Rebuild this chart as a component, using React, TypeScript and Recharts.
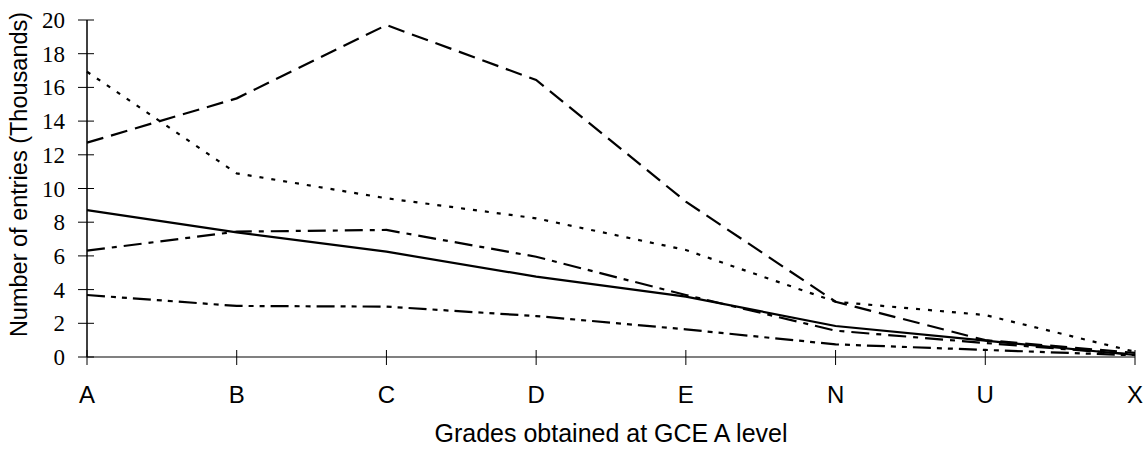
import React from "react";
import { LineChart, Line, XAxis, YAxis } from "recharts";

const grades = ["A", "B", "C", "D", "E", "N", "U", "X"];
const solidSeries = [8.72, 7.4, 6.25, 4.77, 3.58, 1.84, 0.97, 0.12];
const longDashSeries = [12.72, 15.35, 19.7, 16.44, 9.22, 3.28, 1.0, 0.24];
const dottedSeries = [16.93, 10.9, 9.42, 8.23, 6.35, 3.28, 2.49, 0.31];
const dashDotSeries = [6.31, 7.44, 7.54, 5.95, 3.68, 1.56, 0.83, 0.15];
const dashDotDotSeries = [3.68, 3.03, 2.99, 2.43, 1.64, 0.75, 0.42, 0.1];
const yTicks = [0, 2, 4, 6, 8, 10, 12, 14, 16, 18, 20];

const data = grades.map((g, i) => ({
  grade: g,
  solid: solidSeries[i],
  longDash: longDashSeries[i],
  dotted: dottedSeries[i],
  dashDot: dashDotSeries[i],
  dashDotDot: dashDotDotSeries[i],
}));

const sans = "'Liberation Sans', Arial, sans-serif";

const YTick = (props: any) => {
  const { x, y, payload } = props;
  return (
    <g>
      <line x1={x - 9} y1={y} x2={x + 7} y2={y} stroke="#000" strokeWidth={1} />
      <text
        x={x - 22}
        y={y + 8}
        textAnchor="end"
        fontFamily="'Liberation Serif', 'Times New Roman', serif"
        fontSize={23}
        fill="#000"
      >
        {payload.value}
      </text>
    </g>
  );
};

const XTick = (props: any) => {
  const { x, y, payload } = props;
  return (
    <g>
      <line x1={x} y1={y - 7} x2={x} y2={y + 8} stroke="#000" strokeWidth={1} />
      <text x={x} y={y + 46} textAnchor="middle" fontFamily={sans} fontSize={24} fill="#000">
        {payload.value}
      </text>
    </g>
  );
};

// rotated axis title, centred a little above the plot's middle
const YTitle = (props: any) => {
  const { viewBox } = props;
  const cx = 27;
  const cy = viewBox.y + viewBox.height / 2 - 14;
  return (
    <text
      x={cx}
      y={cy}
      transform={`rotate(-90, ${cx}, ${cy})`}
      textAnchor="middle"
      fontFamily={sans}
      fontSize={23.5}
      fill="#000"
    >
      Number of entries (Thousands)
    </text>
  );
};

export default function App() {
  return (
    <div style={{ position: "absolute", left: 0, top: 0, width: 1147, height: 451, background: "#fff" }}>
      <LineChart
        width={1147}
        height={451}
        data={data}
        margin={{ top: 20, right: 12, left: 0, bottom: 0 }}
      >
        <XAxis
          dataKey="grade"
          scale="point"
          padding={{ left: 0, right: 0 }}
          height={94}
          axisLine={{ stroke: "#808080", strokeWidth: 2 }}
          tickLine={false}
          tickSize={0}
          tickMargin={0}
          tick={<XTick />}
          interval={0}
          label={{
            value: "Grades obtained at GCE A level",
            position: "insideBottom",
            offset: 9,
            fontFamily: sans,
            fontSize: 25,
            fill: "#000",
          }}
        />
        <YAxis
          domain={[0, 20]}
          ticks={yTicks}
          width={87}
          axisLine={{ stroke: "#000", strokeWidth: 1.5 }}
          tickLine={false}
          tickSize={0}
          tickMargin={0}
          tick={<YTick />}
          interval={0}
          label={{ content: <YTitle /> }}
        />
        <Line type="linear" dataKey="solid" stroke="#000" strokeWidth={2.2} dot={false} isAnimationActive={false} />
        <Line type="linear" dataKey="longDash" stroke="#000" strokeWidth={2.2} strokeDasharray="17 8" dot={false} isAnimationActive={false} />
        <Line type="linear" dataKey="dotted" stroke="#000" strokeWidth={2.2} strokeDasharray="4 8" dot={false} isAnimationActive={false} />
        <Line type="linear" dataKey="dashDot" stroke="#000" strokeWidth={2.2} strokeDasharray="18 7 5 7" dot={false} isAnimationActive={false} />
        <Line type="linear" dataKey="dashDotDot" stroke="#000" strokeWidth={2.2} strokeDasharray="18 6 5 6 5 6" dot={false} isAnimationActive={false} />
      </LineChart>
    </div>
  );
}
